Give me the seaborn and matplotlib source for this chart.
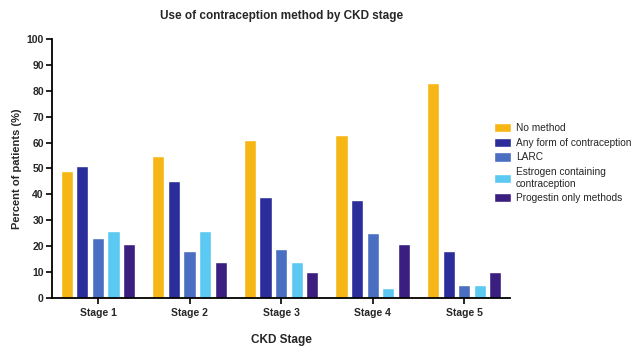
import matplotlib
matplotlib.use("Agg")
import matplotlib.pyplot as plt
import seaborn as sns
import pandas as pd

stages = ["Stage 1", "Stage 2", "Stage 3", "Stage 4", "Stage 5"]
methods = ["No method", "Any form of contraception", "LARC",
           "Estrogen containing\ncontraception", "Progestin only methods"]
no_method = [49, 55, 61, 63, 83]
any_form = [51, 45, 39, 38, 18]
larc = [23, 18, 19, 25, 5]
estrogen = [26, 26, 14, 4, 5]
progestin = [21, 14, 10, 21, 10]
colors = ["#F6B616", "#2B2E9A", "#4A6EC2", "#5CC9F2", "#3B1F80"]

series = [no_method, any_form, larc, estrogen, progestin]
rows = []
for m, vals in zip(methods, series):
    for s, v in zip(stages, vals):
        rows.append({"stage": s, "method": m, "value": v})
df = pd.DataFrame(rows)

sns.set_style("white")
plt.rcParams["font.family"] = ["Liberation Sans", "DejaVu Sans"]

fig = plt.figure(figsize=(6.36, 3.47), dpi=100)
ax = fig.add_axes([0.082, 0.141, 0.72, 0.747])

sns.barplot(data=df, x="stage", y="value", hue="method", order=stages,
            hue_order=methods, palette=colors, width=0.85, gap=0.22,
            saturation=1, ax=ax, legend=True)

ax.set_ylim(0, 100)
ax.set_yticks(range(0, 101, 10))
ax.set_xlim(-0.5, 4.5)
for sp in ["top", "right"]:
    ax.spines[sp].set_visible(False)
for sp in ["left", "bottom"]:
    ax.spines[sp].set_color("black")
    ax.spines[sp].set_linewidth(1.3)
ax.tick_params(axis="both", direction="out", length=4, width=1.2,
               color="black", labelsize=7.5, pad=2)
ax.tick_params(axis="y", left=True)
ax.tick_params(axis="x", bottom=True, pad=3)
for lab in ax.get_xticklabels() + ax.get_yticklabels():
    lab.set_fontweight("bold")

ax.set_xlabel("CKD Stage", fontsize=8.5, fontweight="bold", va="center")
ax.xaxis.set_label_coords(0.5, -0.16)
ax.set_ylabel("Percent of patients (%)", fontsize=8, fontweight="bold", labelpad=3)
ax.set_title("Use of contraception method by CKD stage", fontsize=8.5,
             fontweight="bold", pad=14)

leg = ax.legend(loc="center left", bbox_to_anchor=(0.955, 0.52), frameon=False,
                fontsize=7.3, handlelength=1.7, handleheight=1.0,
                handletextpad=0.5, labelspacing=0.45, borderaxespad=0)

fig.savefig("out.png", dpi=100)
